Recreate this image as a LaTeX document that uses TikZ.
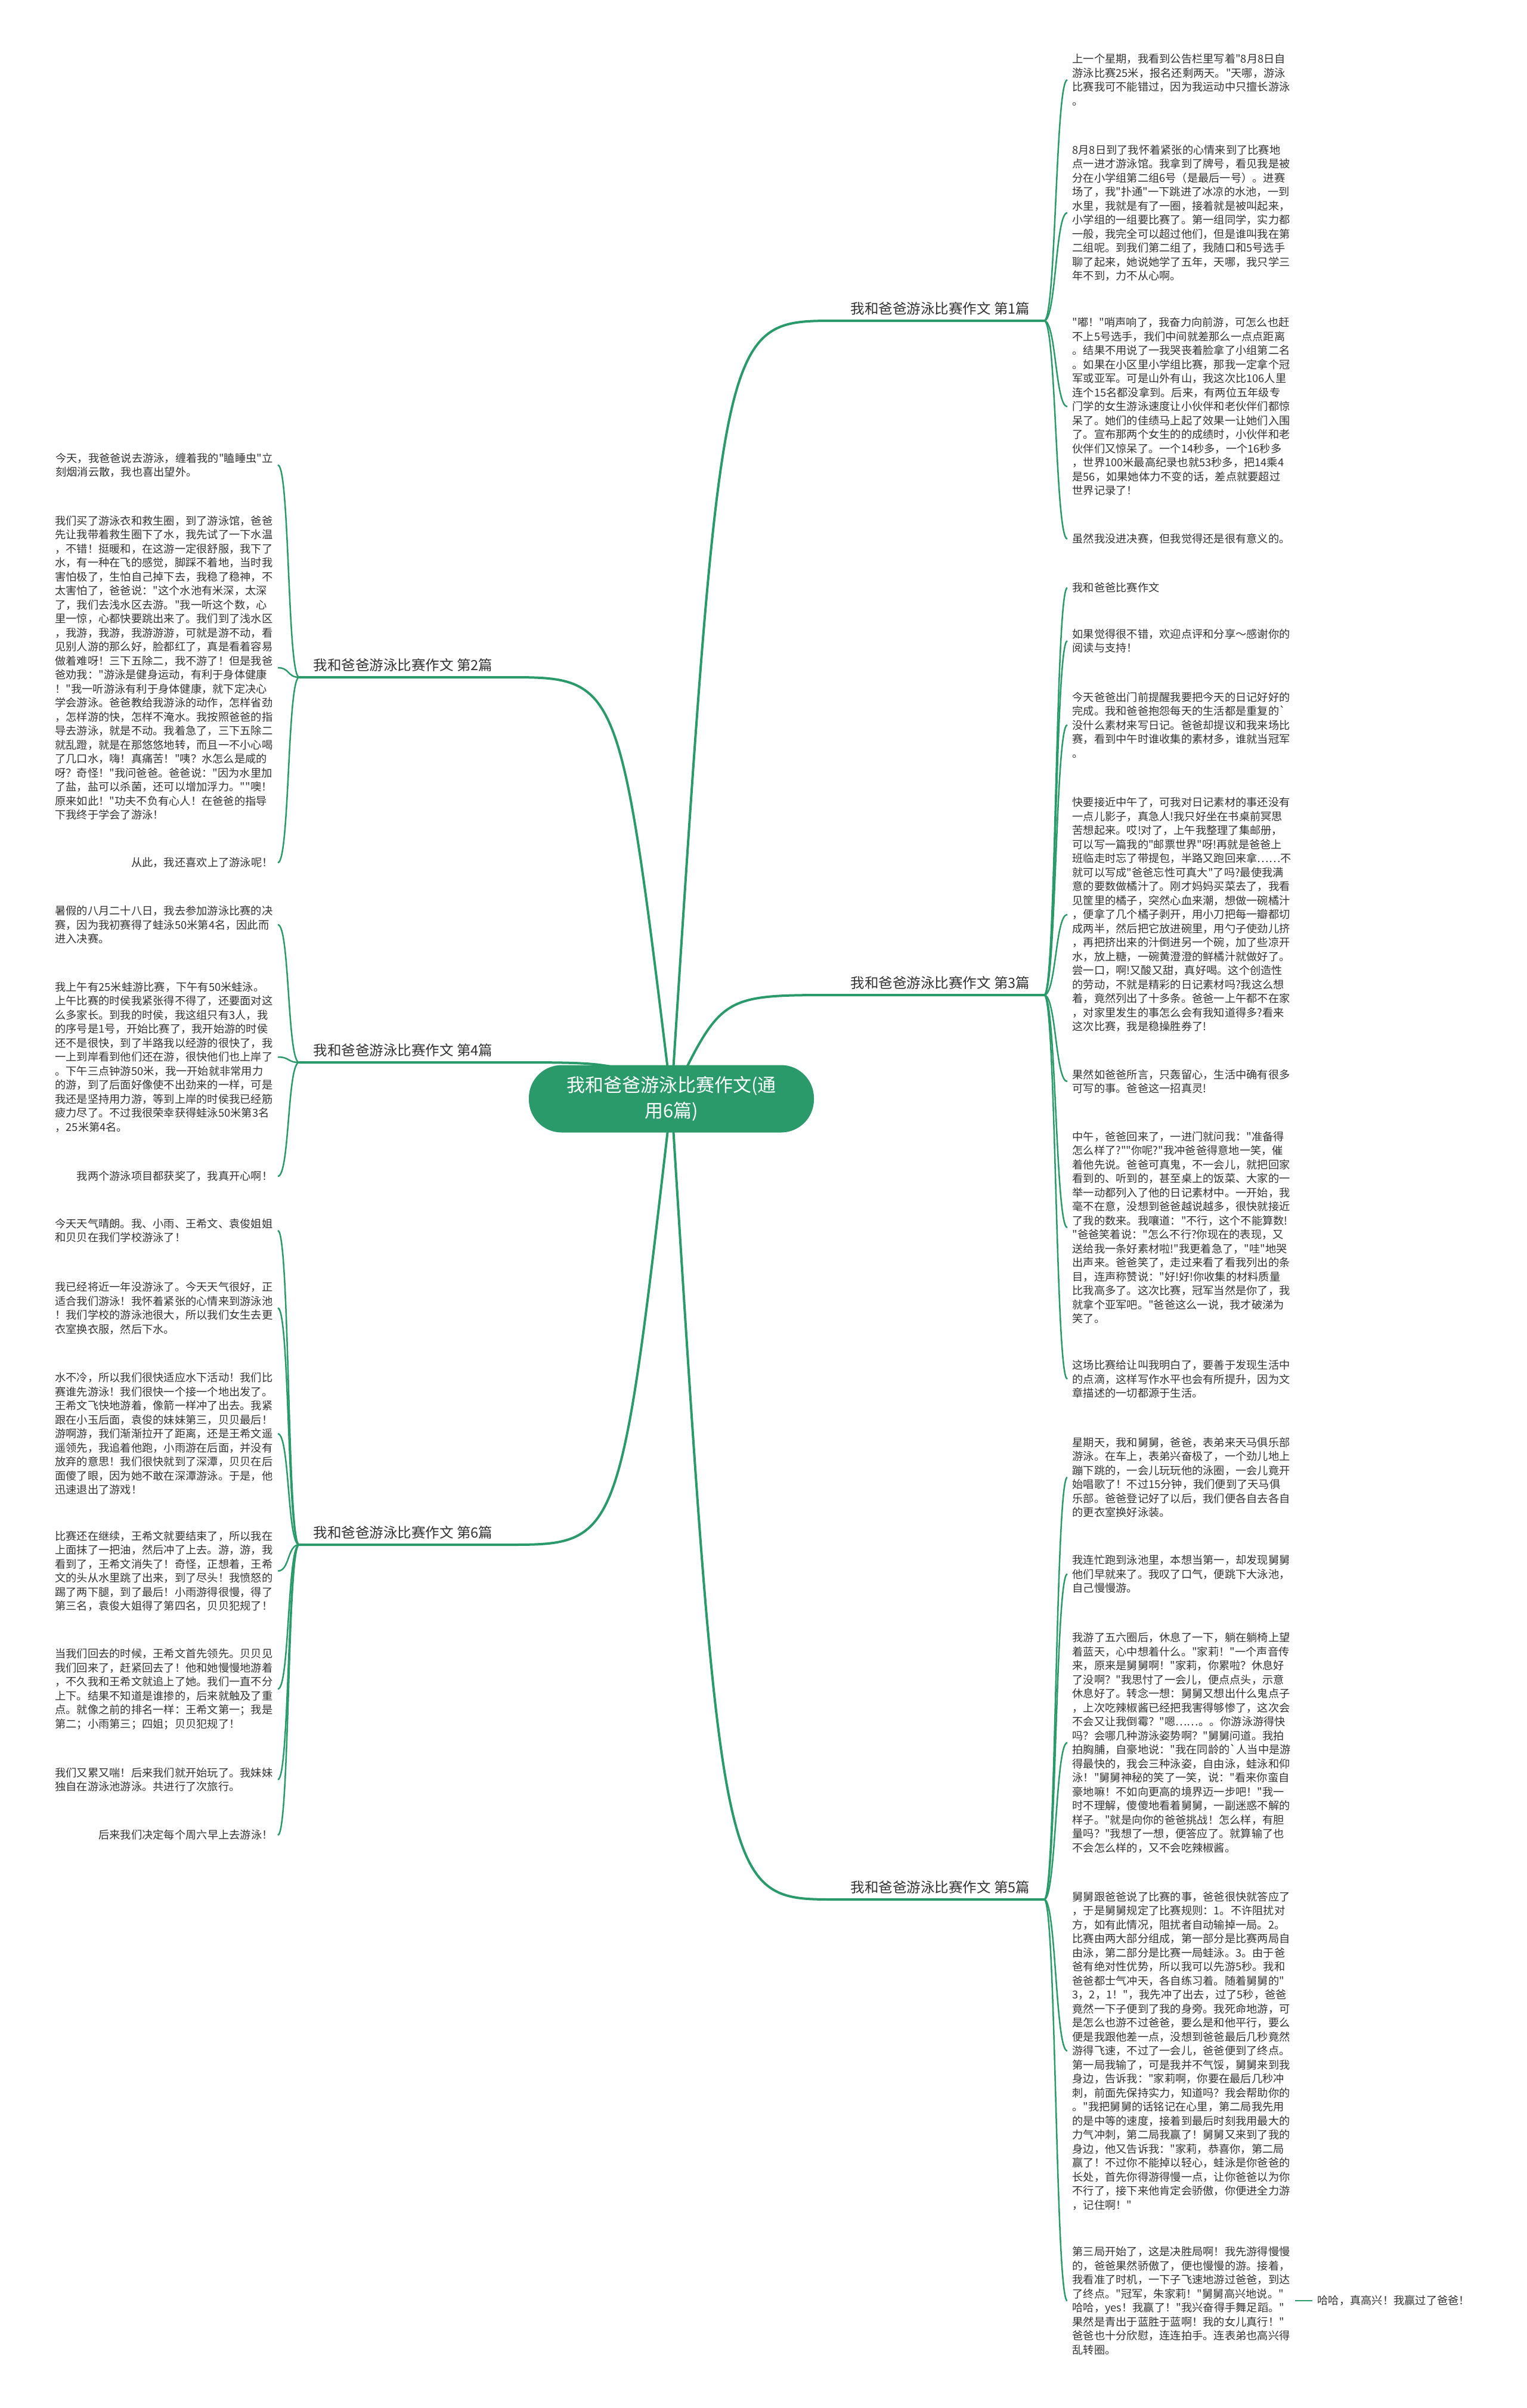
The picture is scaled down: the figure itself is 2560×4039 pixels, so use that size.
\documentclass[tikz,border=0pt]{standalone}
\usepackage{fontspec}
\usepackage{xcolor}
\usepackage{tikz}
\usetikzlibrary{positioning, backgrounds}

\newfontfamily\cjk{Noto Sans CJK SC}
\definecolor{mapgreen}{HTML}{2A9A6A}
\definecolor{leaftext}{HTML}{333333}

\begin{document}
\begin{tikzpicture}[
      x=0.4pt, y=-0.4pt,
      trunk/.style={draw=mapgreen, line width=1.6pt},
      twig/.style={draw=mapgreen, line width=1pt},
      root/.style={fill=mapgreen, text=white, rounded corners=22pt,
        minimum width=191.2pt, minimum height=45.2pt, align=center,
        font=\cjk\fontsize{12.4pt}{17pt}\selectfont},
      branch/.style={text=leaftext, minimum width=139pt, inner ysep=3.5pt,
        anchor=south, font=\cjk\fontsize{9.4pt}{11pt}\selectfont},
      leaf/.style={text=leaftext, align=left, inner xsep=3.2pt, inner ysep=0pt,
        font=\cjk\fontsize{7.3pt}{9.4pt}\selectfont},
      leafR/.style={leaf, anchor=west},
      leafL/.style={leaf, anchor=east},
    ]

    \path[use as bounding box] (0,0) rectangle (2560,4039);

    \node[root] (root) at (1126,1843) {我和爸爸游泳比赛作文(通\\用6篇)};

    \node[branch] (b1) at (1577,538)  {我和爸爸游泳比赛作文 第1篇};
    \node[branch] (b3) at (1577,1669) {我和爸爸游泳比赛作文 第3篇};
    \node[branch] (b5) at (1577,3186) {我和爸爸游泳比赛作文 第5篇};
    \node[branch] (b2) at (676,1136)  {我和爸爸游泳比赛作文 第2篇};
    \node[branch] (b4) at (676,1782)  {我和爸爸游泳比赛作文 第4篇};
    \node[branch] (b6) at (676,2591)  {我和爸爸游泳比赛作文 第6篇};

    % 第1篇
    \node[leafR] (r1a) at (1790,134) {上一个星期，我看到公告栏里写着"8月8日自\\游泳比赛25米，报名还剩两天。"天哪，游泳\\比赛我可不能错过，因为我运动中只擅长游泳\\。};
    \node[leafR] (r1b) at (1790,357) {8月8日到了我怀着紧张的心情来到了比赛地\\点一进才游泳馆。我拿到了牌号，看见我是被\\分在小学组第二组6号（是最后一号）。进赛\\场了，我"扑通"一下跳进了冰凉的水池，一到\\水里，我就是有了一圈，接着就是被叫起来，\\小学组的一组要比赛了。第一组同学，实力都\\一般，我完全可以超过他们，但是谁叫我在第\\二组呢。到我们第二组了，我随口和5号选手\\聊了起来，她说她学了五年，天哪，我只学三\\年不到，力不从心啊。};
    \node[leafR] (r1c) at (1790,682) {"嘟！"哨声响了，我奋力向前游，可怎么也赶\\不上5号选手，我们中间就差那么一点点距离\\。结果不用说了一我哭丧着脸拿了小组第二名\\。如果在小区里小学组比赛，那我一定拿个冠\\军或亚军。可是山外有山，我这次比106人里\\连个15名都没拿到。后来，有两位五年级专\\门学的女生游泳速度让小伙伴和老伙伴们都惊\\呆了。她们的佳绩马上起了效果一让她们入围\\了。宣布那两个女生的的成绩时，小伙伴和老\\伙伴们又惊呆了。一个14秒多，一个16秒多\\，世界100米最高纪录也就53秒多，把14乘4\\是56，如果她体力不变的话，差点就要超过\\世界记录了！};
    \node[leafR] (r1d) at (1790,904) {虽然我没进决赛，但我觉得还是很有意义的。};

    % 第3篇
    \node[leafR] (r3a) at (1790,986) {我和爸爸比赛作文};
    \node[leafR] (r3b) at (1790,1075) {如果觉得很不错，欢迎点评和分享～感谢你的\\阅读与支持！};
    \node[leafR] (r3c) at (1790,1216) {今天爸爸出门前提醒我要把今天的日记好好的\\完成。我和爸爸抱怨每天的生活都是重复的`\\没什么素材来写日记。爸爸却提议和我来场比\\赛，看到中午时谁收集的素材多，谁就当冠军\\。};
    \node[leafR] (r3d) at (1790,1534) {快要接近中午了，可我对日记素材的事还没有\\一点儿影子，真急人!我只好坐在书桌前冥思\\苦想起来。哎!对了，上午我整理了集邮册，\\可以写一篇我的"邮票世界"呀!再就是爸爸上\\班临走时忘了带提包，半路又跑回来拿……不\\就可以写成"爸爸忘性可真大"了吗?最使我满\\意的要数做橘汁了。刚才妈妈买菜去了，我看\\见筐里的橘子，突然心血来潮，想做一碗橘汁\\，便拿了几个橘子剥开，用小刀把每一瓣都切\\成两半，然后把它放进碗里，用勺子使劲儿挤\\，再把挤出来的汁倒进另一个碗，加了些凉开\\水，放上糖，一碗黄澄澄的鲜橘汁就做好了。\\尝一口，啊!又酸又甜，真好喝。这个创造性\\的劳动，不就是精彩的日记素材吗?我这么想\\着，竟然列出了十多条。爸爸一上午都不在家\\，对家里发生的事怎么会有我知道得多?看来\\这次比赛，我是稳操胜券了!};
    \node[leafR] (r3e) at (1790,1814) {果然如爸爸所言，只轰留心，生活中确有很多\\可写的事。爸爸这一招真灵!};
    \node[leafR] (r3f) at (1790,2059) {中午，爸爸回来了，一进门就问我："准备得\\怎么样了?""你呢?"我冲爸爸得意地一笑，催\\着他先说。爸爸可真鬼，不一会儿，就把回家\\看到的、听到的，甚至桌上的饭菜、大家的一\\举一动都列入了他的日记素材中。一开始，我\\毫不在意，没想到爸爸越说越多，很快就接近\\了我的数来。我嚷道："不行，这个不能算数!\\"爸爸笑着说："怎么不行?你现在的表现，又\\送给我一条好素材啦!"我更着急了，"哇"地哭\\出声来。爸爸笑了，走过来看了看我列出的条\\目，连声称赞说："好!好!你收集的材料质量\\比我高多了。这次比赛，冠军当然是你了，我\\就拿个亚军吧。"爸爸这么一说，我才破涕为\\笑了。};
    \node[leafR] (r3g) at (1790,2313) {这场比赛给让叫我明白了，要善于发现生活中\\的点滴，这样写作水平也会有所提升，因为文\\章描述的一切都源于生活。};

    % 第5篇
    \node[leafR] (r5a) at (1790,2478) {星期天，我和舅舅，爸爸，表弟来天马俱乐部\\游泳。在车上，表弟兴奋极了，一个劲儿地上\\蹦下跳的，一会儿玩玩他的泳圈，一会儿竟开\\始唱歌了！不过15分钟，我们便到了天马俱\\乐部。爸爸登记好了以后，我们便各自去各自\\的更衣室换好泳装。};
    \node[leafR] (r5b) at (1790,2640) {我连忙跑到泳池里，本想当第一，却发现舅舅\\他们早就来了。我叹了口气，便跳下大泳池，\\自己慢慢游。};
    \node[leafR] (r5c) at (1790,2923) {我游了五六圈后，休息了一下，躺在躺椅上望\\着蓝天，心中想着什么。"家莉！"一个声音传\\来，原来是舅舅啊！"家莉，你累啦？休息好\\了没啊？"我思忖了一会儿，便点点头，示意\\休息好了。转念一想：舅舅又想出什么鬼点子\\，上次吃辣椒酱已经把我害得够惨了，这次会\\不会又让我倒霉？"嗯……。。你游泳游得快\\吗？会哪几种游泳姿势啊？"舅舅问道。我拍\\拍胸脯，自豪地说："我在同龄的`人当中是游\\得最快的，我会三种泳姿，自由泳，蛙泳和仰\\泳！"舅舅神秘的笑了一笑，说："看来你蛮自\\豪地嘛！不如向更高的境界迈一步吧！"我一\\时不理解，傻傻地看着舅舅，一副迷惑不解的\\样子。"就是向你的爸爸挑战！怎么样，有胆\\量吗？"我想了一想，便答应了。就算输了也\\不会怎么样的，又不会吃辣椒酱。};
    \node[leafR] (r5d) at (1790,3440) {舅舅跟爸爸说了比赛的事，爸爸很快就答应了\\，于是舅舅规定了比赛规则：1。不许阻扰对\\方，如有此情况，阻扰者自动输掉一局。2。\\比赛由两大部分组成，第一部分是比赛两局自\\由泳，第二部分是比赛一局蛙泳。3。由于爸\\爸有绝对性优势，所以我可以先游5秒。我和\\爸爸都士气冲天，各自练习着。随着舅舅的"\\3，2，1！"，我先冲了出去，过了5秒，爸爸\\竟然一下子便到了我的身旁。我死命地游，可\\是怎么也游不过爸爸，要么是和他平行，要么\\便是我跟他差一点，没想到爸爸最后几秒竟然\\游得飞速，不过了一会儿，爸爸便到了终点。\\第一局我输了，可是我并不气馁，舅舅来到我\\身边，告诉我："家莉啊，你要在最后几秒冲\\刺，前面先保持实力，知道吗？我会帮助你的\\。"我把舅舅的话铭记在心里，第二局我先用\\的是中等的速度，接着到最后时刻我用最大的\\力气冲刺，第二局我赢了！舅舅又来到了我的\\身边，他又告诉我："家莉，恭喜你，第二局\\赢了！不过你不能掉以轻心，蛙泳是你爸爸的\\长处，首先你得游得慢一点，让你爸爸以为你\\不行了，接下来他肯定会骄傲，你便进全力游\\，记住啊！"};
    \node[leafR] (r5e) at (1790,3859) {第三局开始了，这是决胜局啊！我先游得慢慢\\的，爸爸果然骄傲了，便也慢慢的游。接着，\\我看准了时机，一下子飞速地游过爸爸，到达\\了终点。"冠军，朱家莉！"舅舅高兴地说。"\\哈哈，yes！我赢了！"我兴奋得手舞足蹈。"\\果然是青出于蓝胜于蓝啊！我的女儿真行！"\\爸爸也十分欣慰，连连拍手。连表弟也高兴得\\乱转圈。};
    \node[leafR, right=11.6pt of r5e] (haha) {哈哈，真高兴！我赢过了爸爸！};

    % 第2篇
    \node[leafL] (l2a) at (466,780) {今天，我爸爸说去游泳，缠着我的"瞌睡虫"立\\刻烟消云散，我也喜出望外。};
    \node[leafL] (l2b) at (466,1120) {我们买了游泳衣和救生圈，到了游泳馆，爸爸\\先让我带着救生圈下了水，我先试了一下水温\\，不错！挺暖和，在这游一定很舒服，我下了\\水，有一种在飞的感觉，脚踩不着地，当时我\\害怕极了，生怕自己掉下去，我稳了稳神，不\\太害怕了，爸爸说："这个水池有米深，太深\\了，我们去浅水区去游。"我一听这个数，心\\里一惊，心都快要跳出来了。我们到了浅水区\\，我游，我游，我游游游，可就是游不动，看\\见别人游的那么好，脸都红了，真是看着容易\\做着难呀！三下五除二，我不游了！但是我爸\\爸劝我："游泳是健身运动，有利于身体健康\\！"我一听游泳有利于身体健康，就下定决心\\学会游泳。爸爸教给我游泳的动作，怎样省劲\\，怎样游的快，怎样不淹水。我按照爸爸的指\\导去游泳，就是不动。我着急了，三下五除二\\就乱蹬，就是在那悠悠地转，而且一不小心喝\\了几口水，嗨！真痛苦！"咦？水怎么是咸的\\呀？奇怪！"我问爸爸。爸爸说："因为水里加\\了盐，盐可以杀菌，还可以增加浮力。""噢！\\原来如此！"功夫不负有心人！在爸爸的指导\\下我终于学会了游泳！};
    \node[leafL] (l2c) at (466,1447) {从此，我还喜欢上了游泳呢！};

    % 第4篇
    \node[leafL] (l4a) at (466,1551) {暑假的八月二十八日，我去参加游泳比赛的决\\赛，因为我初赛得了蛙泳50米第4名，因此而\\进入决赛。};
    \node[leafL] (l4b) at (466,1773) {我上午有25米蛙游比赛，下午有50米蛙泳。\\上午比赛的时侯我紧张得不得了，还要面对这\\么多家长。到我的时侯，我这组只有3人，我\\的序号是1号，开始比赛了，我开始游的时侯\\还不是很快，到了半路我以经游的很快了，我\\一上到岸看到他们还在游，很快他们也上岸了\\。下午三点钟游50米，我一开始就非常用力\\的游，到了后面好像使不出劲来的一样，可是\\我还是坚持用力游，等到上岸的时侯我已经筋\\疲力尽了。不过我很荣幸获得蛙泳50米第3名\\，25米第4名。};
    \node[leafL] (l4c) at (466,1973) {我两个游泳项目都获奖了，我真开心啊！};

    % 第6篇
    \node[leafL] (l6a) at (466,2064) {今天天气晴朗。我、小雨、王希文、袁俊姐姐\\和贝贝在我们学校游泳了！};
    \node[leafL] (l6b) at (466,2194) {我已经将近一年没游泳了。今天天气很好，正\\适合我们游泳！我怀着紧张的心情来到游泳池\\！我们学校的游泳池很大，所以我们女生去更\\衣室换衣服，然后下水。};
    \node[leafL] (l6c) at (466,2405) {水不冷，所以我们很快适应水下活动！我们比\\赛谁先游泳！我们很快一个接一个地出发了。\\王希文飞快地游着，像箭一样冲了出去。我紧\\跟在小玉后面，袁俊的妹妹第三，贝贝最后！\\游啊游，我们渐渐拉开了距离，还是王希文遥\\遥领先，我追着他跑，小雨游在后面，并没有\\放弃的意思！我们很快就到了深潭，贝贝在后\\面傻了眼，因为她不敢在深潭游泳。于是，他\\迅速退出了游戏！};
    \node[leafL] (l6d) at (466,2635) {比赛还在继续，王希文就要结束了，所以我在\\上面抹了一把油，然后冲了上去。游，游，我\\看到了，王希文消失了！奇怪，正想着，王希\\文的头从水里跳了出来，到了尽头！我愤怒的\\踢了两下腿，到了最后！小雨游得很慢，得了\\第三名，袁俊大姐得了第四名，贝贝犯规了！};
    \node[leafL] (l6e) at (466,2833) {当我们回去的时候，王希文首先领先。贝贝见\\我们回来了，赶紧回去了！他和她慢慢地游着\\，不久我和王希文就追上了她。我们一直不分\\上下。结果不知道是谁掺的，后来就触及了重\\点。就像之前的排名一样：王希文第一；我是\\第二；小雨第三；四姐；贝贝犯规了！};
    \node[leafL] (l6f) at (466,2985) {我们又累又喘！后来我们就开始玩了。我妹妹\\独自在游泳池游泳。共进行了次旅行。};
    \node[leafL] (l6g) at (466,3078) {后来我们决定每个周六早上去游泳！};

    \begin{scope}[on background layer]
      \fill[white] (0,0) rectangle (2560,4039);

      % trunks
      \draw[trunk] (root.center) .. controls (1210,538)  .. (b1.south west) -- (b1.south east);
      \draw[trunk] (root.center) .. controls (1210,1669) .. (b3.south west) -- (b3.south east);
      \draw[trunk] (root.center) .. controls (1210,3186) .. (b5.south west) -- (b5.south east);
      \draw[trunk] (root.center) .. controls (1040,1136) .. (b2.south east) -- (b2.south west);
      \draw[trunk] (root.center) .. controls (1040,1782) .. (b4.south east) -- (b4.south west);
      \draw[trunk] (root.center) .. controls (1040,2591) .. (b6.south east) -- (b6.south west);

      % twigs
      \foreach \leaf in {r1a,r1b,r1c,r1d}
        \draw[twig] (b1.south east) .. controls +(20,0) and +(-20,0) .. (\leaf.west);
      \foreach \leaf in {r3a,r3b,r3c,r3d,r3e,r3f,r3g}
        \draw[twig] (b3.south east) .. controls +(20,0) and +(-20,0) .. (\leaf.west);
      \foreach \leaf in {r5a,r5b,r5c,r5d,r5e}
        \draw[twig] (b5.south east) .. controls +(20,0) and +(-20,0) .. (\leaf.west);
      \foreach \leaf in {l2a,l2b,l2c}
        \draw[twig] (b2.south west) .. controls +(-20,0) and +(20,0) .. (\leaf.east);
      \foreach \leaf in {l4a,l4b,l4c}
        \draw[twig] (b4.south west) .. controls +(-20,0) and +(20,0) .. (\leaf.east);
      \foreach \leaf in {l6a,l6b,l6c,l6d,l6e,l6f,l6g}
        \draw[twig] (b6.south west) .. controls +(-20,0) and +(20,0) .. (\leaf.east);
      \draw[twig] (r5e.east) -- (haha.west);
    \end{scope}

  \end{tikzpicture}
\end{document}
